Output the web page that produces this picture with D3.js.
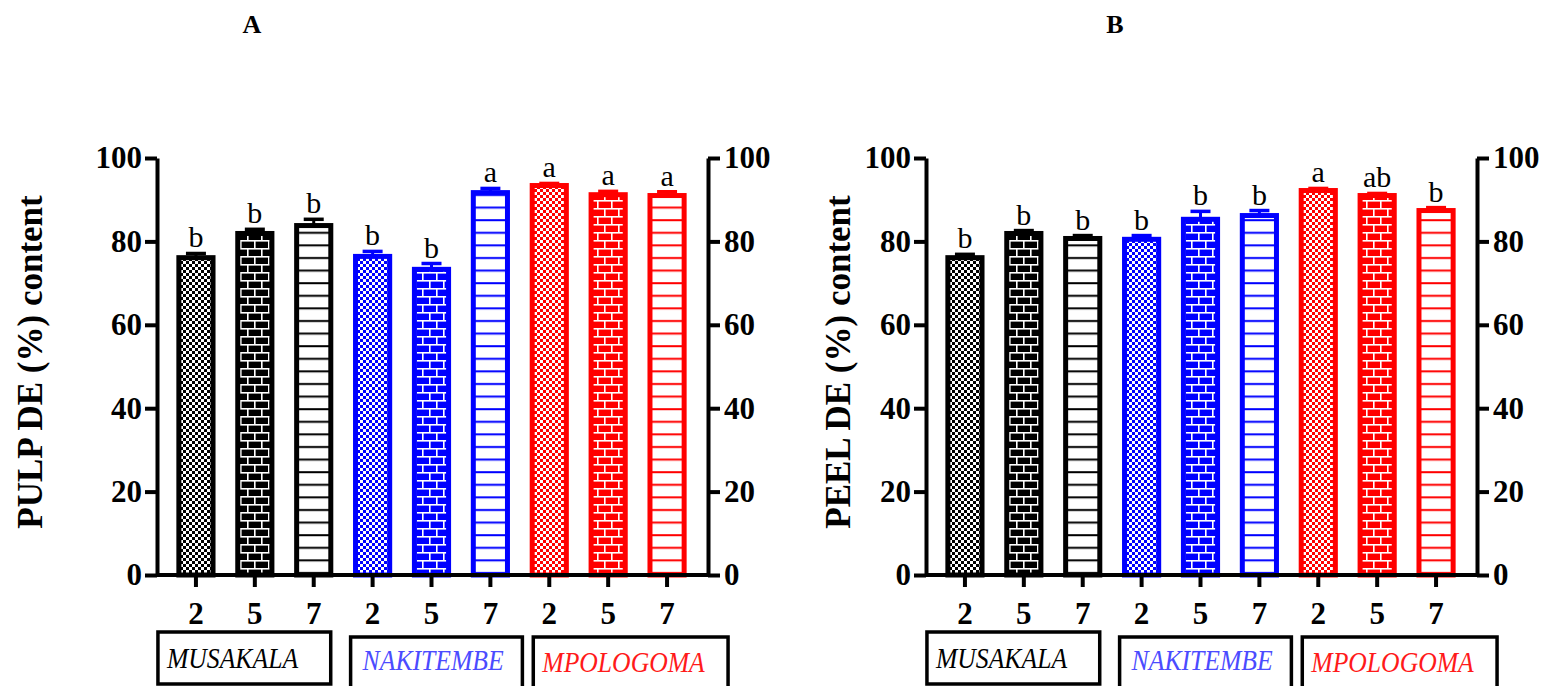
<!DOCTYPE html>
<html>
<head>
<meta charset="utf-8">
<script src="https://d3js.org/d3.v7.min.js"></script>
<style>
  body { margin: 0; background: #fff; }
  svg { display: block; }
  text { font-family: "Liberation Serif", "Times New Roman", serif; }
</style>
</head>
<body>
<svg width="1544" height="686"></svg>
<script>
// ---- data ----
var days = ['2', '5', '7', '2', '5', '7', '2', '5', '7'];
var cultivars = ['MUSAKALA', 'NAKITEMBE', 'MPOLOGOMA'];
var pulpMean = [76.1, 81.9, 83.8, 76.4, 73.3, 91.7, 93.4, 91.2, 91.0];
var pulpErr = [1.0, 1.0, 1.5, 1.2, 1.4, 1.0, 0.5, 0.8, 0.9];
var pulpLetters = ['b', 'b', 'b', 'b', 'b', 'a', 'a', 'a', 'a'];
var peelMean = [76.1, 81.9, 80.7, 80.5, 85.3, 86.2, 92.2, 91.0, 87.4];
var peelErr = [0.8, 0.7, 0.7, 0.9, 1.9, 1.2, 0.5, 0.5, 0.7];
var peelLetters = ['b', 'b', 'b', 'b', 'b', 'b', 'a', 'ab', 'b'];
var yTicks = [0, 20, 40, 60, 80, 100];

// ---- styles ----
var barColors = ['#000000', '#0000ff', '#ff0000'];
var labelColors = ['#000000', '#4b4bff', '#ff1a1a'];
var patternTypes = ['chk', 'brk', 'hln'];
// group box edges relative to first/last bar centre of the group
var boxLayout = [
  {l: -38, r: 17, top: 632, bot: 684, tx: 9, ty: 668},
  {l: -22, r: 32, top: 637, bot: 688, tx: 12, ty: 670},
  {l: -16, r: 61, top: 637, bot: 688, tx: 9, ty: 672}
];

var svg = d3.select('svg');
var defs = svg.append('defs');

barColors.forEach(function (c, ci) {
  // checkerboard
  var p = defs.append('pattern').attr('id', 'chk' + ci)
    .attr('patternUnits', 'userSpaceOnUse').attr('width', 6).attr('height', 6);
  p.append('rect').attr('width', 6).attr('height', 6).attr('fill', c);
  p.append('rect').attr('width', 3).attr('height', 3).attr('fill', '#fff');
  p.append('rect').attr('x', 3).attr('y', 3).attr('width', 3).attr('height', 3).attr('fill', '#fff');

  // brick
  p = defs.append('pattern').attr('id', 'brk' + ci)
    .attr('patternUnits', 'userSpaceOnUse').attr('width', 14).attr('height', 16);
  p.append('rect').attr('width', 14).attr('height', 16).attr('fill', c);
  p.append('rect').attr('y', 0).attr('width', 14).attr('height', 1.6).attr('fill', '#fff');
  p.append('rect').attr('y', 8).attr('width', 14).attr('height', 1.6).attr('fill', '#fff');
  p.append('rect').attr('x', 2).attr('y', 0).attr('width', 1.6).attr('height', 8).attr('fill', '#fff');
  p.append('rect').attr('x', 9).attr('y', 8).attr('width', 1.6).attr('height', 8).attr('fill', '#fff');

  // horizontal lines
  p = defs.append('pattern').attr('id', 'hln' + ci)
    .attr('patternUnits', 'userSpaceOnUse').attr('width', 10).attr('height', 12.6);
  p.append('rect').attr('width', 10).attr('height', 12.6).attr('fill', '#fff');
  p.append('rect').attr('y', 5).attr('width', 10).attr('height', 2).attr('fill', c);
});

var y = d3.scaleLinear().domain([0, 100]).range([575, 158]);

function drawPanel(dx, means, errs, letters, yTitle, titleX, panelName, panelX) {
  var g = svg.append('g').attr('transform', 'translate(' + dx + ',0)');
  var xLeft = 157, xRight = 708;
  var x = d3.scaleBand().domain(d3.range(days.length))
    .range([166.5, 696.5]).paddingInner(0.42).paddingOuter(0.21);
  var cx = function (i) { return x(i) + x.bandwidth() / 2; };

  // bars
  g.selectAll('rect.bar').data(means).enter().append('rect')
    .attr('class', 'bar')
    .attr('x', function (d, i) { return x(i); })
    .attr('y', function (d) { return y(d); })
    .attr('width', x.bandwidth())
    .attr('height', function (d) { return y(0) - y(d); })
    .attr('fill', function (d, i) { return 'url(#' + patternTypes[i % 3] + Math.floor(i / 3) + ')'; })
    .attr('stroke', function (d, i) { return barColors[Math.floor(i / 3)]; })
    .attr('stroke-width', 5);

  // error bars (upper only)
  var eb = g.selectAll('g.err').data(means).enter().append('g').attr('class', 'err')
    .attr('stroke', function (d, i) { return barColors[Math.floor(i / 3)]; });
  eb.append('line')
    .attr('x1', function (d, i) { return cx(i); })
    .attr('x2', function (d, i) { return cx(i); })
    .attr('y1', function (d) { return y(d); })
    .attr('y2', function (d, i) { return y(d + errs[i]); })
    .attr('stroke-width', 3);
  eb.append('line')
    .attr('x1', function (d, i) { return cx(i) - 10; })
    .attr('x2', function (d, i) { return cx(i) + 10; })
    .attr('y1', function (d, i) { return y(d + errs[i]); })
    .attr('y2', function (d, i) { return y(d + errs[i]); })
    .attr('stroke-width', 3.5);

  // significance letters
  g.selectAll('text.sig').data(letters).enter().append('text')
    .attr('class', 'sig')
    .attr('x', function (d, i) { return cx(i); })
    .attr('y', function (d, i) { return y(means[i] + errs[i]) - 6; })
    .attr('text-anchor', 'middle')
    .attr('font-size', 30)
    .text(function (d) { return d; });

  // y axes
  var yl = g.append('g').attr('transform', 'translate(' + xLeft + ',0)')
    .call(d3.axisLeft(y).tickValues(yTicks).tickSize(12).tickSizeOuter(0).tickPadding(3));
  var yr = g.append('g').attr('transform', 'translate(' + xRight + ',0)')
    .call(d3.axisRight(y).tickValues(yTicks).tickSize(12).tickSizeOuter(0).tickPadding(4));
  [yl, yr].forEach(function (a) {
    a.select('.domain').attr('stroke-width', 4).attr('stroke', '#000');
    a.selectAll('.tick line').attr('stroke-width', 4).attr('stroke', '#000');
    a.selectAll('.tick text').attr('font-size', 31).attr('font-weight', 'bold')
      .attr('fill', '#000').attr('font-family', '"Liberation Serif", serif');
  });

  // x axis
  var xa = g.append('g').attr('transform', 'translate(0,' + y(0) + ')')
    .call(d3.axisBottom(x).tickSize(12).tickSizeOuter(0).tickPadding(15)
      .tickFormat(function (i) { return days[i]; }));
  xa.select('.domain').remove();
  xa.selectAll('.tick line').attr('stroke-width', 4).attr('stroke', '#000');
  xa.selectAll('.tick text').attr('font-size', 31).attr('font-weight', 'bold')
    .attr('fill', '#000').attr('font-family', '"Liberation Serif", serif');
  g.append('line').attr('x1', xLeft).attr('x2', xRight)
    .attr('y1', y(0)).attr('y2', y(0)).attr('stroke', '#000').attr('stroke-width', 4);

  // cultivar boxes
  cultivars.forEach(function (name, ci) {
    var b = boxLayout[ci];
    var l = cx(ci * 3) + b.l, r = cx(ci * 3 + 2) + b.r;
    g.append('rect').attr('x', l).attr('y', b.top)
      .attr('width', r - l).attr('height', b.bot - b.top)
      .attr('fill', 'none').attr('stroke', '#000').attr('stroke-width', 3.5);
    g.append('text')
      .attr('transform', 'translate(' + (l + b.tx) + ',' + b.ty + ') scale(0.885,1)')
      .attr('font-size', 29).attr('font-style', 'italic')
      .attr('fill', labelColors[ci]).text(name);
  });

  // y title
  svg.append('text')
    .attr('transform', 'translate(' + titleX + ',362) rotate(-90)')
    .attr('text-anchor', 'middle').attr('font-size', 35).attr('font-weight', 'bold')
    .text(yTitle);

  // panel letter
  svg.append('text').attr('x', panelX).attr('y', 33)
    .attr('text-anchor', 'middle').attr('font-size', 26).attr('font-weight', 'bold')
    .text(panelName);
}

drawPanel(0, pulpMean, pulpErr, pulpLetters, 'PULP DE (%) content', 42, 'A', 252);
drawPanel(769, peelMean, peelErr, peelLetters, 'PEEL DE (%) content', 850, 'B', 1115);
</script>
</body>
</html>
